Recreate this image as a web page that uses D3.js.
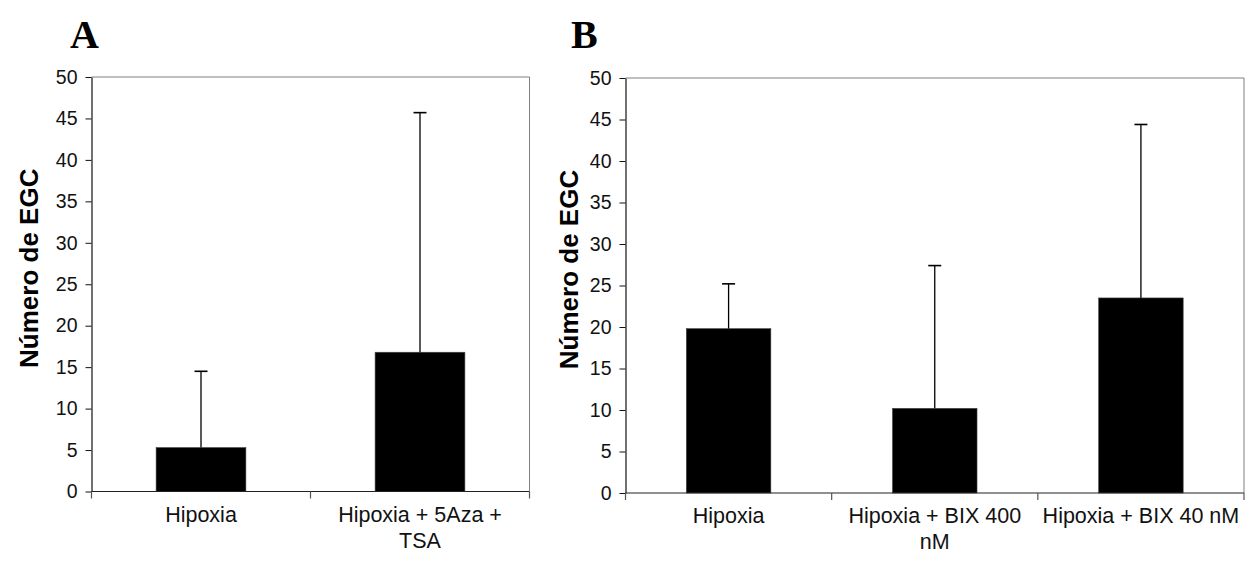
<!DOCTYPE html>
<html>
<head>
<meta charset="utf-8">
<script src="https://cdn.jsdelivr.net/npm/d3@7"></script>
<style>
  html, body { margin: 0; padding: 0; background: #fff; }
  svg { display: block; }
</style>
</head>
<body>
<svg id="chart" width="1246" height="565"></svg>
<script>
// Panel A: hypoxia vs. hypoxia + 5Aza + TSA
const categoriesA = ["Hipoxia", "Hipoxia + 5Aza +\nTSA"];
const meansA = [5.3, 16.8];
const errorsA = [9.2, 28.9];

// Panel B: hypoxia vs. BIX treatments
const categoriesB = ["Hipoxia", "Hipoxia + BIX 400\nnM", "Hipoxia + BIX 40 nM"];
const meansB = [19.8, 10.2, 23.5];
const errorsB = [5.4, 17.2, 20.9];

const yTicks = [0, 5, 10, 15, 20, 25, 30, 35, 40, 45, 50];
const yTitle = "Número de EGC";

const svg = d3.select("#chart");
const sans = "Arial, 'Liberation Sans', sans-serif";

function drawPanel(cfg) {
  const { letter, letterX, titleOffset, left, right, top, bottom, categories, means, errors } = cfg;
  const g = svg.append("g");

  const x = d3.scaleBand().domain(categories).range([left, right]).padding(0);
  const y = d3.scaleLinear().domain([0, 50]).range([bottom, top]);
  const barW = x.bandwidth() * 0.41;

  // plot frame (top and right edges)
  g.append("path")
    .attr("d", `M${left},${top}H${right}V${bottom}`)
    .attr("fill", "none").attr("stroke", "#808080").attr("stroke-width", 1);

  // bars
  g.selectAll("rect.bar").data(categories).join("rect")
    .attr("class", "bar")
    .attr("x", d => x(d) + (x.bandwidth() - barW) / 2)
    .attr("width", barW)
    .attr("y", (d, i) => y(means[i]))
    .attr("height", (d, i) => y(0) - y(means[i]))
    .attr("fill", "#000")
    .attr("stroke", "#444").attr("stroke-width", 0.6);

  // upper error bars
  const cx = d => x(d) + x.bandwidth() / 2;
  g.selectAll("line.err").data(categories).join("line")
    .attr("class", "err")
    .attr("x1", cx).attr("x2", cx)
    .attr("y1", (d, i) => y(means[i]))
    .attr("y2", (d, i) => y(means[i] + errors[i]))
    .attr("stroke", "#000").attr("stroke-width", 1.3);
  g.selectAll("line.cap").data(categories).join("line")
    .attr("class", "cap")
    .attr("x1", d => cx(d) - 6.5).attr("x2", d => cx(d) + 6.5)
    .attr("y1", (d, i) => y(means[i] + errors[i]))
    .attr("y2", (d, i) => y(means[i] + errors[i]))
    .attr("stroke", "#000").attr("stroke-width", 1.6);

  // y axis
  const yAxis = d3.axisLeft(y).tickValues(yTicks).tickSize(6).tickPadding(8).tickSizeOuter(0);
  const ya = g.append("g").attr("transform", `translate(${left},0)`).call(yAxis);
  ya.select(".domain").attr("stroke", "#111").attr("stroke-width", 1.2);
  ya.selectAll(".tick line").attr("stroke", "#111");
  ya.selectAll(".tick text")
    .attr("font-family", sans)
    .attr("font-size", 19.5).attr("fill", "#111");

  // x axis with ticks on band boundaries
  const xa = g.append("g").attr("transform", `translate(0,${bottom})`);
  xa.append("line").attr("x1", left).attr("x2", right)
    .attr("stroke", "#222").attr("stroke-width", 1.2);
  const bounds = categories.map(d => x(d)).concat([right]);
  xa.selectAll("line.xt").data(bounds).join("line")
    .attr("class", "xt")
    .attr("x1", d => d).attr("x2", d => d)
    .attr("y1", 0).attr("y2", 7)
    .attr("stroke", "#555").attr("stroke-width", 1.2);

  const labels = xa.selectAll("text.cat").data(categories).join("text")
    .attr("class", "cat")
    .attr("text-anchor", "middle")
    .attr("font-family", sans)
    .attr("font-size", 21.5).attr("fill", "#111");
  labels.each(function (d) {
    const t = d3.select(this);
    d.split("\n").forEach((line, k) => {
      t.append("tspan").attr("x", cx(d)).attr("y", 30 + k * 26).text(line);
    });
  });

  // y title
  g.append("text")
    .attr("transform", `translate(${left - titleOffset},${(top + bottom) / 2 - 16}) rotate(-90)`)
    .attr("text-anchor", "middle")
    .attr("font-family", sans)
    .attr("font-weight", "bold").attr("font-size", 26).attr("fill", "#000")
    .text(yTitle);

  // panel letter
  g.append("text")
    .attr("x", letterX).attr("y", 48)
    .attr("font-family", "'Times New Roman', 'Liberation Serif', serif")
    .attr("font-weight", "bold").attr("font-size", 40).attr("fill", "#000")
    .text(letter);
}

drawPanel({
  letter: "A", letterX: 70, titleOffset: 54,
  left: 91.5, right: 529.5, top: 77, bottom: 491.5,
  categories: categoriesA, means: meansA, errors: errorsA
});
drawPanel({
  letter: "B", letterX: 571, titleOffset: 48,
  left: 625.5, right: 1244, top: 78, bottom: 493,
  categories: categoriesB, means: meansB, errors: errorsB
});
</script>
</body>
</html>
